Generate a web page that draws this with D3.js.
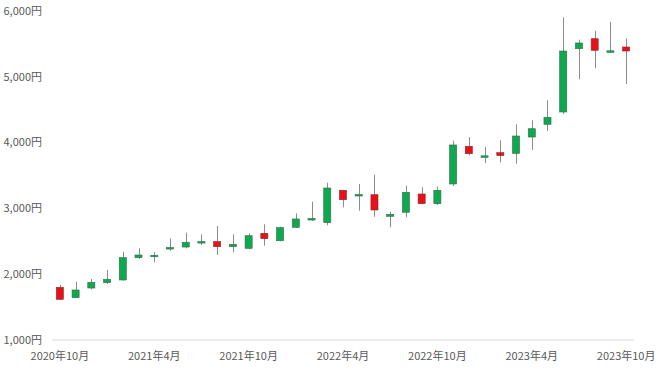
<!DOCTYPE html>
<html>
<head>
<meta charset="utf-8">
<script src="https://cdn.jsdelivr.net/npm/d3@7"></script>
<style>
  body { margin: 0; background: #fff; }
  text { font-family: "Noto Sans CJK JP", "Noto Sans", sans-serif; }
</style>
</head>
<body>
<div id="chart"></div>
<script>
const width = 660
const height = 371

// 月足 2020年10月〜2023年10月
const months = ["2020-10","2020-11","2020-12","2021-01","2021-02","2021-03","2021-04","2021-05","2021-06","2021-07","2021-08","2021-09",
  "2021-10","2021-11","2021-12","2022-01","2022-02","2022-03","2022-04","2022-05","2022-06","2022-07","2022-08","2022-09",
  "2022-10","2022-11","2022-12","2023-01","2023-02","2023-03","2023-04","2023-05","2023-06","2023-07","2023-08","2023-09","2023-10"]
const opens  = [1801,1643,1790,1871,1912,2251,2283,2400,2413,2492,2494,2418,2393,2621,2509,2713,2840,2783,3275,3205,3208,2880,2941,3219,3072,3371,3943,3793,3847,3837,4085,4278,4465,5427,5579,5388,5453]
const closes = [1618,1760,1877,1922,2251,2292,2288,2405,2485,2496,2418,2454,2585,2540,2707,2839,2846,3310,3132,3211,2976,2910,3245,3072,3275,3964,3831,3799,3801,4100,4211,4384,5392,5514,5403,5395,5392]
const highs  = [1836,1886,1927,2064,2342,2393,2333,2545,2631,2606,2733,2606,2621,2758,2722,2925,3102,3391,3280,3371,3512,2950,3345,3320,3330,4029,4085,3933,4035,4278,4339,4643,5904,5564,5701,5833,5585]
const lows   = [1608,1640,1770,1851,1901,2231,2181,2357,2393,2444,2292,2333,2378,2433,2500,2702,2809,2743,3017,2965,2874,2713,2865,3062,3052,3340,3807,3690,3700,3679,3888,4176,4435,4962,5129,5366,4891]

const yTicks = [1000,2000,3000,4000,5000,6000]
const xTickMonths = ["2020-10","2021-04","2021-10","2022-04","2022-10","2023-04","2023-10"]

const candles = months.map((m, i) => ({m, o: opens[i], c: closes[i], h: highs[i], l: lows[i]}))

const svg = d3.select("#chart").append("svg")
    .attr("width", width)
    .attr("height", height)

const x = d3.scaleBand()
    .domain(months)
    .range([52, 634])
    .paddingInner(0.55)
    .paddingOuter(0.275)

const y = d3.scaleLinear()
    .domain([1000, 6000])
    .range([340, 11])

// y ラベル
svg.append("g")
    .selectAll("text")
    .data(yTicks)
    .join("text")
    .attr("x", 42)
    .attr("y", d => y(d))
    .attr("dy", "0.35em")
    .attr("text-anchor", "end")
    .attr("font-size", 11)
    .attr("fill", "#595959")
    .text(d => d3.format(",")(d) + "円")

// 横軸
svg.append("line")
    .attr("x1", 52).attr("x2", 634)
    .attr("y1", y(1000)).attr("y2", y(1000))
    .attr("stroke", "#d9d9d9")
    .attr("stroke-width", 1)

const fmtLabel = m => {
  const [yy, mm] = m.split("-")
  return yy + "年" + (+mm) + "月"
}

svg.append("g")
    .selectAll("text")
    .data(xTickMonths)
    .join("text")
    .attr("x", d => x(d) + x.bandwidth() / 2)
    .attr("y", 356)
    .attr("dy", "0.35em")
    .attr("text-anchor", "middle")
    .attr("font-size", 11)
    .attr("fill", "#595959")
    .text(fmtLabel)

// ローソク足
const g = svg.append("g")
    .selectAll(".candle")
    .data(candles)
    .join("g")
    .attr("class", "candle")

g.append("line")
    .attr("x1", d => Math.round(x(d.m) + x.bandwidth() / 2) + 0.5)
    .attr("x2", d => Math.round(x(d.m) + x.bandwidth() / 2) + 0.5)
    .attr("y1", d => y(d.h))
    .attr("y2", d => y(d.l))
    .attr("stroke", "#8c8c8c")
    .attr("stroke-width", 1)

g.append("rect")
    .attr("x", d => x(d.m))
    .attr("width", x.bandwidth())
    .attr("y", d => y(Math.max(d.o, d.c)))
    .attr("height", d => Math.max(1.5, Math.abs(y(d.o) - y(d.c))))
    .attr("fill", d => d.c >= d.o ? "#10a84f" : "#e8111a")
    .attr("stroke", d => d.c >= d.o ? "#2d6e4a" : "#8a2a2a")
    .attr("stroke-width", 0.6)
</script>
</body>
</html>
